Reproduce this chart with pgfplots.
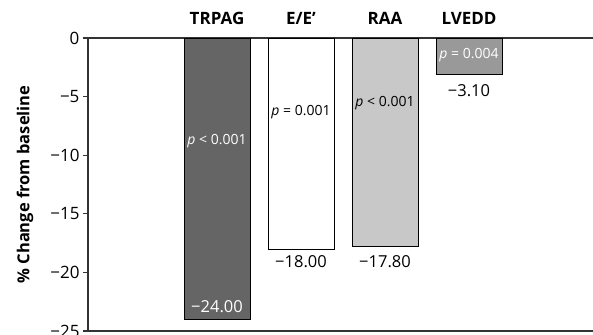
\documentclass[border=0pt]{standalone}
\usepackage{pgfplots}
\pgfplotsset{compat=1.18}
\usepackage{fontspec}
\setmainfont{Open Sans}
\definecolor{cTR}{HTML}{656565}
\definecolor{cRA}{HTML}{C8C8C8}
\definecolor{cLV}{HTML}{999999}
\definecolor{axc}{HTML}{333333}
\begin{document}
\begin{tikzpicture}
\begin{axis}[
  scale only axis,
  width=505pt, height=293pt,
  xmin=-0.5357, xmax=5.476,
  ymin=-25, ymax=0,
  axis x line*=top,
  axis y line*=left,
  axis line style={axc, line width=1.2pt},
  xtick={1,2,3,4},
  xticklabels={TRPAG,E/E’,RAA,LVEDD},
  x tick label style={font=\fontsize{17}{19}\selectfont\bfseries, yshift=5pt},
  major x tick style={draw=none},
  ytick={-25,-20,-15,-10,-5,0},
  yticklabels={−25,−20,−15,−10,−5,0},
  y tick label style={font=\fontsize{17}{19}\selectfont},
  tick align=outside,
  major tick length=5pt,
  y tick style={axc, line width=1.2pt},
  ylabel={\fontsize{16.5}{18}\selectfont\bfseries \% Change from baseline},
  ylabel style={yshift=10pt},
  ybar, bar width=0.7857, bar shift=0pt,
  clip=false,
]
\addplot[fill=cTR, draw=black, line width=0.8pt] coordinates {(1,-24)};
\addplot[fill=white, draw=black, line width=0.8pt] coordinates {(2,-18)};
\addplot[fill=cRA, draw=black, line width=0.8pt] coordinates {(3,-17.8)};
\addplot[fill=cLV, draw=black, line width=0.8pt] coordinates {(4,-3.1)};
\draw[axc, line width=1.2pt] (rel axis cs:0,0) -- (rel axis cs:1,0);
\coordinate (bl) at (rel axis cs:0,0);
\coordinate (tr) at (rel axis cs:1,1);
\begin{scope}[every node/.style={font=\fontsize{14}{16}\selectfont, inner sep=0pt}]
\node[white] at (axis cs:1,-8.79) {\textit{p} < 0.001};
\node at (axis cs:2,-6.31) {\textit{p} = 0.001};
\node at (axis cs:3,-5.55) {\textit{p} < 0.001};
\node[white] at (axis cs:4,-1.45) {\textit{p} = 0.004};
\end{scope}
\begin{scope}[every node/.style={font=\fontsize{16.5}{19}\selectfont, inner sep=0pt}]
\node[white] at (axis cs:1,-22.9) {−24.00};
\node at (axis cs:2,-19.05) {−18.00};
\node at (axis cs:3,-19.05) {−17.80};
\node at (axis cs:4,-4.5) {−3.10};
\end{scope}
\end{axis}
\pgfresetboundingbox
\path[use as bounding box] ([xshift=-88pt,yshift=-3pt]bl) rectangle ([yshift=38pt]tr);
\end{tikzpicture}
\end{document}
